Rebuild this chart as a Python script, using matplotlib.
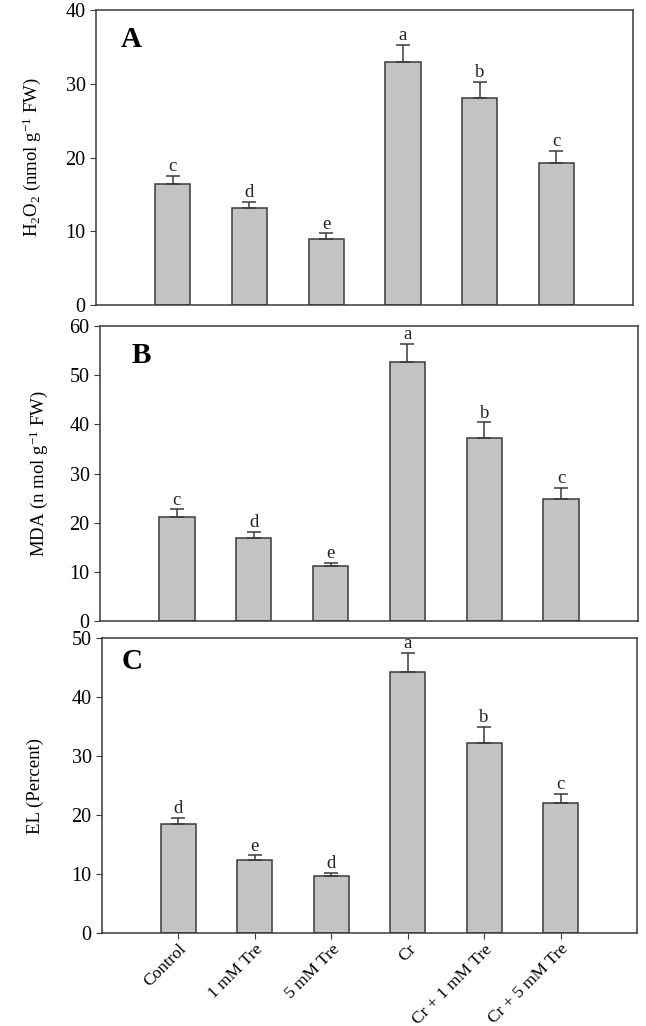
import matplotlib
matplotlib.use("Agg")
import matplotlib.pyplot as plt

plt.rcParams['font.family'] = ['Liberation Serif', 'DejaVu Serif']
plt.rcParams['mathtext.fontset'] = 'custom'
plt.rcParams['mathtext.rm'] = 'Liberation Serif'
plt.rcParams['mathtext.it'] = 'Liberation Serif:italic'

# Данные
treatments = ["Control", "1 mM Tre", "5 mM Tre", "Cr", "Cr + 1 mM Tre", "Cr + 5 mM Tre"]

h2o2 = [16.4, 13.1, 9.0, 32.9, 28.1, 19.3]
h2o2_err = [1.05, 0.9, 0.7, 2.35, 2.1, 1.6]
h2o2_letters = ["c", "d", "e", "a", "b", "c"]

mda = [21.1, 16.9, 11.1, 52.6, 37.3, 24.9]
mda_err = [1.6, 1.15, 0.8, 3.7, 3.1, 2.25]
mda_letters = ["c", "d", "e", "a", "b", "c"]

el = [18.5, 12.3, 9.6, 44.3, 32.2, 22.0]
el_err = [1.0, 0.85, 0.6, 3.2, 2.7, 1.65]
el_letters = ["d", "e", "d", "a", "b", "c"]

x = list(range(1, len(treatments) + 1))

fig = plt.figure(figsize=(6.46, 10.26), dpi=100)

panels = [
    # (rect, values, errors, letters, ylim, ylabel, labelpad, tag, tag position)
    ([0.1486, 0.7027, 0.8313, 0.2875], h2o2, h2o2_err, h2o2_letters, 40,
     r"H$_2$O$_2$ (nmol g$^{-1}$ FW)", 16, "A", (0.065, 0.90)),
    ([0.1548, 0.3947, 0.8328, 0.2875], mda, mda_err, mda_letters, 60,
     r"MDA (n mol g$^{-1}$ FW)", 14, "B", (0.076, 0.90)),
    ([0.1579, 0.0906, 0.8282, 0.2875], el, el_err, el_letters, 50,
     "EL (Percent)", 20, "C", (0.056, 0.92)),
]

for i, (rect, vals, errs, letters, ymax, ylabel, lpad, tag, tagpos) in enumerate(panels):
    ax = fig.add_axes(rect)
    ax.bar(x, vals, width=0.46, color="#c3c3c3", edgecolor="#3a3a3a", linewidth=1.1, zorder=2)
    ax.errorbar(x, vals, yerr=[[0] * len(errs), errs], fmt="none", ecolor="#3a3a3a",
                elinewidth=1.1, capsize=5, capthick=1.1, zorder=3)
    for xi, v, e, lt in zip(x, vals, errs, letters):
        ax.text(xi, v + e + ymax * 0.003, lt, ha="center", va="bottom", fontsize=13.5, color="#222222")
    ax.set_xlim(0, 7)
    ax.set_ylim(0, ymax)
    ax.set_yticks(range(0, ymax + 1, 10))
    ax.set_ylabel(ylabel, fontsize=13.5, labelpad=lpad)
    ax.tick_params(axis="y", labelsize=14.5, direction="out", length=4, color="#3a3a3a")
    ax.text(tagpos[0], tagpos[1], tag, transform=ax.transAxes, fontsize=21,
            fontweight="bold", ha="center", va="center")
    for sp in ax.spines.values():
        sp.set_color("#3a3a3a")
        sp.set_linewidth(1.1)
    if i < 2:
        ax.set_xticks([])
    else:
        ax.set_xticks(x)
        ax.set_xticklabels(treatments, rotation=45, ha="right", rotation_mode="anchor", fontsize=12.5)
        ax.tick_params(axis="x", direction="out", length=4, pad=2, color="#3a3a3a")

fig.savefig("out.png", dpi=100)
